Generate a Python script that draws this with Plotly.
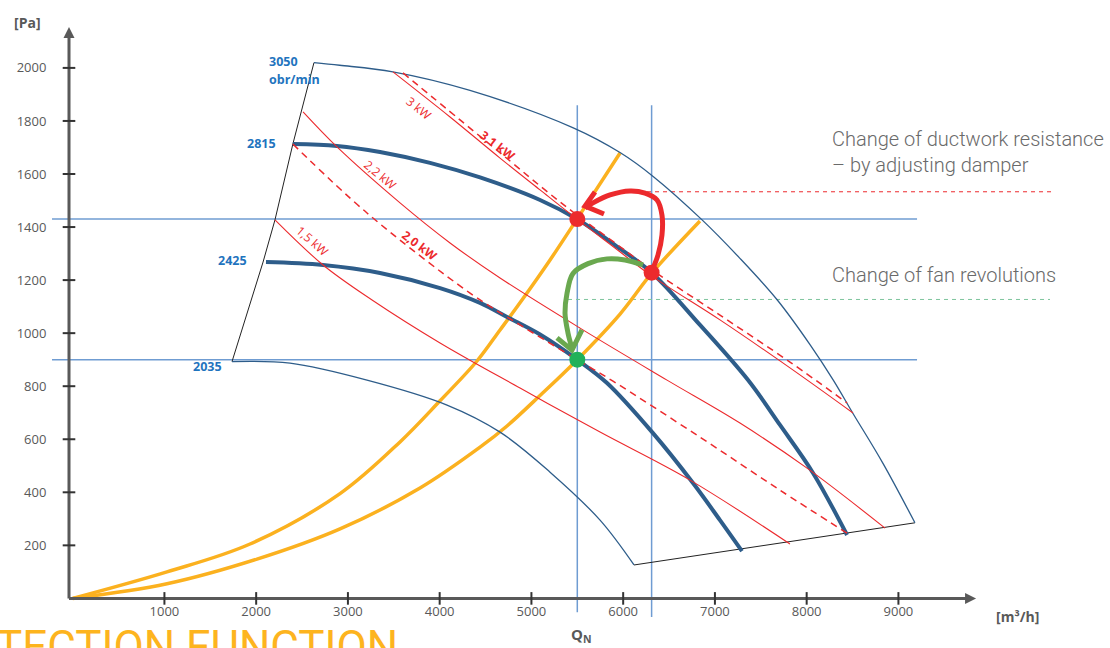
import plotly.graph_objects as go

# ---------------- axes / ranges (data units) ----------------
X_RANGE = [-792, 11306]        # flow [m3/h] across the full canvas
Y_RANGE = [-187, 2256]         # pressure [Pa] across the full canvas
AXIS_X = -40                   # pressure axis position
X_TIP = 9846                   # end of flow-axis arrow
Y_TIP = 2154                   # end of pressure-axis arrow
x_ticks = [1000, 2000, 3000, 4000, 5000, 6000, 7000, 8000, 9000]
y_ticks = [200, 400, 600, 800, 1000, 1200, 1400, 1600, 1800, 2000]

# ---------------- fan curves ----------------
rpm_labels = ["3050", "2815", "2425", "2035"]
q_3050 = [2630, 2910, 3490, 4330, 5450, 5970, 6330, 6860, 7270, 7680, 8040, 8290, 8500, 8830, 9180]
p_3050 = [2020, 2010, 1985, 1915, 1775, 1680, 1590, 1427, 1283, 1125, 955, 823, 700, 510, 285]
q_2815 = [2400, 2880, 3350, 3895, 4440, 5094, 5497, 5911, 6314, 6837, 7361, 7709, 8069, 8440]
p_2815 = [1713, 1706, 1683, 1642, 1587, 1502, 1430, 1332, 1227, 1031, 823, 654, 473, 239]
q_2425 = [2107, 2729, 3350, 4004, 4440, 4734, 5094, 5500, 5824, 6325, 6761, 7055, 7295]
p_2425 = [1268, 1257, 1227, 1170, 1114, 1061, 995, 900, 812, 623, 435, 295, 178]
q_2035 = [1737, 2369, 3208, 4080, 4658, 5203, 5748, 6118]
p_2035 = [893, 887, 823, 729, 627, 476, 295, 126]

# boundary of the fan field
q_left_edge = [2630, 2400, 2205, 2075, 1737]
p_left_edge = [2020, 1713, 1427, 1268, 893]
q_bottom_edge = [6118, 9180]
p_bottom_edge = [126, 285]

# ---------------- shaft power lines ----------------
power_labels = ["3 kW", "3,1 kW", "2,2 kW", "2,0 kW", "1,5 kW"]
q_3kw = [3491, 4113, 4658, 5094, 5497, 5911, 6314, 7055, 7818, 8505]
p_3kw = [1985, 1815, 1660, 1540, 1430, 1321, 1215, 1050, 869, 699]
q_31kw = [3600, 4222, 4767, 5148, 5497, 5911, 6314, 7055, 7818, 8440]
p_31kw = [1981, 1804, 1649, 1540, 1445, 1340, 1238, 1068, 891, 737]
q_22kw = [2511, 2881, 3568, 4113, 4658, 5530, 6478, 7273, 8004, 8854]
p_22kw = [1834, 1702, 1491, 1340, 1208, 1019, 823, 661, 491, 265]
q_20kw = [2400, 3208, 4331, 4876, 5500, 5889, 6837, 7709, 8440]
p_20kw = [1713, 1453, 1151, 1031, 900, 819, 608, 408, 246]
q_15kw = [2205, 2729, 3263, 4004, 4876, 5748, 6729, 7818]
p_15kw = [1427, 1257, 1125, 963, 793, 627, 446, 205]

# ---------------- system (ductwork) curves ----------------
q_sys1 = [0, 1028, 1933, 2914, 3568, 4004, 4407, 4658, 4897, 5203, 5497, 5966]
p_sys1 = [0, 100, 205, 395, 590, 745, 895, 1012, 1125, 1276, 1430, 1679]
q_sys2 = [0, 1028, 2009, 2914, 3786, 4440, 4734, 5094, 5500, 5966, 6314, 6837]
p_sys2 = [0, 55, 148, 262, 416, 570, 650, 765, 900, 1072, 1227, 1423]

# ---------------- operating points ----------------
Q_N = 5500
Q_2 = 6310
P_1 = 1430
P_2 = 1228
P_3 = 900
ref_line_x = [-225, 9203]      # extent of horizontal reference lines
ref_line_top = 1859            # top of vertical reference lines
ref_line_bottom = [-52, -70]   # bottom ends of vertical reference lines

# ---------------- arrows ----------------
q_red_arrow = [6303, 6380, 6423, 6423, 6369, 6238, 6074, 5857, 5671, 5584]
p_red_arrow = [1227, 1295, 1370, 1445, 1502, 1528, 1536, 1521, 1491, 1472]
q_red_head = [5693, 5584, 5791]
p_red_head = [1532, 1479, 1449]
q_green_arrow = [6216, 6020, 5824, 5617, 5453, 5388, 5366, 5399, 5442]
p_green_arrow = [1257, 1276, 1280, 1262, 1225, 1150, 1076, 1000, 944]
q_green_head = [5279, 5442, 5551]
p_green_head = [982, 936, 1012]

# ---------------- side notes ----------------
note_damper = "Change of ductwork resistance<br>– by adjusting damper"
note_rpm = "Change of fan revolutions"
note_q = 8254
note_p = [1683, 1219]
red_dash_q = [6260, 10685]
red_dash_p = 1533
green_dash_q = [5399, 10652]
green_dash_p = 1127

# ---------------- colours ----------------
DARK_BLUE = "#2E5D8A"
REF_BLUE = "#6F9CD2"
RED = "#EC2A2D"
ORANGE = "#FBB11F"
AXIS = "#595959"
LABEL_BLUE = "#1F74BE"

fig = go.Figure()


def line(q, p, color, width, dash="solid", shape="spline"):
    fig.add_trace(go.Scatter(x=q, y=p, mode="lines", hoverinfo="skip",
                             line=dict(color=color, width=width, dash=dash, shape=shape)))


# reference lines
for pv in [P_1, P_3]:
    line(ref_line_x, [pv, pv], REF_BLUE, 1.5, shape="linear")
for qv, pb in zip([Q_N, Q_2], ref_line_bottom):
    line([qv, qv], [ref_line_top, pb], REF_BLUE, 1.5, shape="linear")

# dashed leader lines
line(red_dash_q, [red_dash_p, red_dash_p], RED, 1, dash="4px,4px", shape="linear")
line(green_dash_q, [green_dash_p, green_dash_p], "#7DC49C", 1, dash="4px,4px", shape="linear")

# boundary
line(q_left_edge, p_left_edge, "#222222", 1, shape="linear")
line(q_bottom_edge, p_bottom_edge, "#222222", 1, shape="linear")

# system curves
line(q_sys1, p_sys1, ORANGE, 3.5)
line(q_sys2, p_sys2, ORANGE, 3.5)

# fan curves
line(q_3050, p_3050, DARK_BLUE, 1.3)
line(q_2815, p_2815, DARK_BLUE, 4)
line(q_2425, p_2425, DARK_BLUE, 4)
line(q_2035, p_2035, DARK_BLUE, 1.3)

# power lines
line(q_3kw, p_3kw, RED, 1.1)
line(q_31kw, p_31kw, RED, 1.5, dash="7px,5px")
line(q_22kw, p_22kw, RED, 1.1)
line(q_20kw, p_20kw, RED, 1.5, dash="7px,5px")
line(q_15kw, p_15kw, RED, 1.1)

# arrows
line(q_red_arrow, p_red_arrow, RED, 5)
line(q_red_head, p_red_head, RED, 5, shape="linear")
line(q_green_arrow, p_green_arrow, "#6AA84F", 5)
line(q_green_head, p_green_head, "#6AA84F", 5, shape="linear")

# operating points
fig.add_trace(go.Scatter(x=[Q_N, Q_2], y=[P_1, P_2], mode="markers", hoverinfo="skip",
                         marker=dict(color=RED, size=16)))
fig.add_trace(go.Scatter(x=[Q_N], y=[P_3], mode="markers", hoverinfo="skip",
                         marker=dict(color="#20B15A", size=16)))

# axis lines with arrow heads
fig.add_trace(go.Scatter(x=[AXIS_X, X_TIP - 60], y=[0, 0], mode="lines", hoverinfo="skip",
                         line=dict(color=AXIS, width=3)))
fig.add_trace(go.Scatter(x=[AXIS_X, AXIS_X], y=[0, Y_TIP - 20], mode="lines", hoverinfo="skip",
                         line=dict(color=AXIS, width=3)))
fig.add_trace(go.Scatter(x=[X_TIP], y=[0], mode="markers", hoverinfo="skip",
                         marker=dict(symbol="arrow-right", size=11, color=AXIS, line=dict(width=0))))
fig.add_trace(go.Scatter(x=[AXIS_X], y=[Y_TIP], mode="markers", hoverinfo="skip",
                         marker=dict(symbol="arrow-up", size=11, color=AXIS, line=dict(width=0))))

# axis tick marks
fig.add_trace(go.Scatter(x=x_ticks, y=[0] * len(x_ticks), mode="markers", hoverinfo="skip",
                         marker=dict(symbol="line-ns", size=9, line=dict(color="#333333", width=2))))
fig.add_trace(go.Scatter(x=[AXIS_X] * len(y_ticks), y=y_ticks, mode="markers", hoverinfo="skip",
                         marker=dict(symbol="line-ew", size=9, line=dict(color="#333333", width=2))))

ann = []
# axis titles
ann.append(dict(x=AXIS_X, y=Y_TIP, text="<b>[Pa]</b>", showarrow=False, xshift=-42, yshift=5,
                font=dict(size=14, color=AXIS, family="Open Sans")))
ann.append(dict(x=X_TIP, y=0, text="<b>[m³/h]</b>", showarrow=False, xshift=41, yshift=-18,
                font=dict(size=14, color=AXIS, family="Open Sans")))
ann.append(dict(x=Q_N, y=0, text="<b>Q<sub>N</sub></b>", showarrow=False, xshift=4, yshift=-37,
                font=dict(size=15, color=AXIS, family="Open Sans")))

# rpm labels
rpm_font = dict(size=12.5, color=LABEL_BLUE, family="Open Sans", weight="bold")
ann.append(dict(x=q_3050[0], y=p_3050[0], text=rpm_labels[0], showarrow=False,
                xanchor="left", xshift=-47, yshift=1, font=rpm_font))
ann.append(dict(x=q_3050[0], y=p_3050[0], text="obr/min", showarrow=False,
                xanchor="left", xshift=-47, yshift=-17, font=rpm_font))
ann.append(dict(x=q_2815[0], y=p_2815[0], text=rpm_labels[1], showarrow=False,
                xanchor="right", xshift=-15, yshift=1, font=rpm_font))
ann.append(dict(x=q_2425[0], y=p_2425[0], text=rpm_labels[2], showarrow=False,
                xanchor="right", xshift=-17, yshift=2, font=rpm_font))
ann.append(dict(x=q_2035[0], y=p_2035[0], text=rpm_labels[3], showarrow=False,
                xanchor="right", xshift=-8, yshift=-5, font=rpm_font))

# power labels
power_pos_q = [3764, 4636, 3350, 3786, 2609]
power_pos_p = [1849, 1709, 1600, 1332, 1351]
power_angle = [39, 37, 40, 37, 41]
power_bold = [False, True, False, True, False]
for t, q, p, a, b in zip(power_labels, power_pos_q, power_pos_p, power_angle, power_bold):
    ann.append(dict(x=q, y=p, text=f"<b>{t}</b>" if b else t, showarrow=False, textangle=a,
                    font=dict(size=12, color=RED, family="Open Sans")))

# side notes
note_font = dict(size=20, color="#6A6A6A", family="Roboto", weight=300)
for t, p in zip([note_damper, note_rpm], note_p):
    ann.append(dict(x=note_q, y=p, text=t, showarrow=False, xanchor="left", align="left",
                    font=note_font))

# cropped slide heading at the bottom edge
ann.append(dict(x=0, y=0.004, xref="paper", yref="paper", text="TECTION FUNCTION", showarrow=False,
                xanchor="left", yanchor="middle", xshift=-6, yshift=-2,
                font=dict(size=44, color="#FDB41E", family="Roboto")))

x_pos = (AXIS_X - X_RANGE[0]) / (X_RANGE[1] - X_RANGE[0])
y_pos = (0 - Y_RANGE[0]) / (Y_RANGE[1] - Y_RANGE[0])

fig.update_layout(
    width=1110, height=648, autosize=False,
    margin=dict(l=0, r=0, t=0, b=0),
    paper_bgcolor="white", plot_bgcolor="white",
    showlegend=False,
    annotations=ann,
    xaxis=dict(range=X_RANGE, anchor="free", position=y_pos, showgrid=False, zeroline=False,
               showline=False, tickvals=x_ticks, ticktext=[str(v) for v in x_ticks],
               ticks="outside", ticklen=1, tickcolor="rgba(0,0,0,0)",
               tickfont=dict(size=13, color=AXIS, family="Open Sans"), automargin=False),
    yaxis=dict(range=Y_RANGE, anchor="free", position=x_pos, showgrid=False, zeroline=False,
               showline=False, tickvals=y_ticks, ticktext=[str(v) for v in y_ticks],
               ticks="outside", ticklen=20, tickcolor="rgba(0,0,0,0)",
               tickfont=dict(size=13, color=AXIS, family="Open Sans"), automargin=False),
)

fig.write_html("out.html", config={"displayModeBar": False},
               post_script="document.body.style.margin='0px';document.body.style.overflow='hidden';")
